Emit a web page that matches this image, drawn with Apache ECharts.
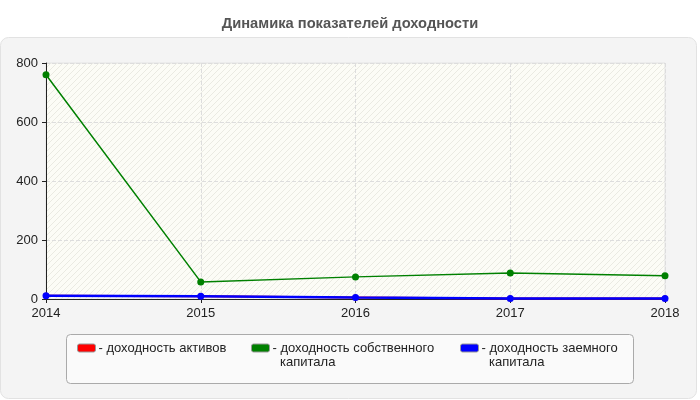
<!DOCTYPE html>
<html>
<head>
<meta charset="utf-8">
<script src="https://cdn.jsdelivr.net/npm/echarts@6/dist/echarts.min.js"></script>
<style>html,body{margin:0;padding:0;background:#fff}#c{width:700px;height:400px}</style>
</head>
<body>
<div id="c"></div>
<script>
var years = ['2014', '2015', '2016', '2017', '2018'];
var assetsReturn = [11, 9, 5, 2, 2];
var equityReturn = [760, 58, 75, 88, 79];
var debtReturn = [11, 9, 5, 2, 2];
var yTicks = [0, 200, 400, 600, 800];
var names = ['доходность активов', 'доходность собственного капитала', 'доходность заемного капитала'];
var legendLine1 = ['- доходность активов', '- доходность собственного', '- доходность заемного'];
var legendLine2 = ['', 'капитала', 'капитала'];
var colors = ['#ff0000', '#008000', '#0000ff'];

var FONT = 'Arial, "Liberation Sans", sans-serif';
var FS = 13;
var chart = echarts.init(document.getElementById('c'));

// subtle diagonal hatch for plot background
var pc = document.createElement('canvas');
pc.width = 6; pc.height = 6;
var pctx = pc.getContext('2d');
pctx.fillStyle = '#fcfcf6';
pctx.fillRect(0, 0, 6, 6);
pctx.strokeStyle = 'rgba(200,200,190,0.35)';
pctx.lineWidth = 1;
pctx.beginPath();
pctx.moveTo(0, 6); pctx.lineTo(6, 0);
pctx.moveTo(-1, 1); pctx.lineTo(1, -1);
pctx.moveTo(5, 7); pctx.lineTo(7, 5);
pctx.stroke();

var legendLefts = [77, 251, 460];

function legendFor(i) {
  return {
    data: [names[i]],
    left: legendLefts[i],
    top: 341,
    orient: 'horizontal',
    icon: 'roundRect',
    itemWidth: 18,
    itemHeight: 8,
    padding: 0,
    selectedMode: false,
    itemStyle: { borderColor: '#999', borderWidth: 1 },
    formatter: function () { return legendLine1[i]; },
    textStyle: { fontFamily: FONT, fontSize: FS, color: '#222', lineHeight: 14, padding: [0, 0, 0, -2] }
  };
}

var graphics = [
  { type: 'rect', z: -10, shape: { x: 0.5, y: 37.5, width: 696, height: 361, r: 8 }, style: { fill: '#f4f4f4', stroke: '#e2e2e2', lineWidth: 1 } },
  { type: 'rect', z: -10, shape: { x: 66.5, y: 334.5, width: 567, height: 49, r: 4 }, style: { fill: '#fafafa', stroke: '#aaaaaa', lineWidth: 1 } }
];
for (var k = 0; k < 3; k++) {
  if (legendLine2[k]) {
    graphics.push({ type: 'text', z: 10, left: legendLefts[k] + 29, top: 356,
      style: { text: legendLine2[k], font: FS + 'px ' + FONT, fill: '#222' } });
  }
}

chart.setOption({
  animation: false,
  title: {
    text: 'Динамика показателей доходности',
    left: 'center',
    top: 11,
    textStyle: { fontFamily: FONT, fontSize: 14.7, fontWeight: 'bold', color: '#555' }
  },
  graphic: graphics,
  legend: [legendFor(0), legendFor(1), legendFor(2)],
  grid: {
    left: 46, right: 35, top: 63, bottom: 101,
    show: true, backgroundColor: { image: pc, repeat: 'repeat' }, borderColor: '#e4e4e4', borderWidth: 1
  },
  xAxis: {
    type: 'category',
    data: years,
    boundaryGap: false,
    axisLine: { lineStyle: { color: '#222', width: 1 } },
    axisTick: { show: true, length: 4, lineStyle: { color: '#222' } },
    axisLabel: { fontFamily: FONT, fontSize: FS, color: '#222', margin: 8 },
    splitLine: { show: true, lineStyle: { type: 'dashed', color: '#dddddd' } }
  },
  yAxis: {
    type: 'value',
    min: 0, max: 800, interval: 200,
    axisLine: { show: true, lineStyle: { color: '#222', width: 1 } },
    axisTick: { show: true, length: 4, lineStyle: { color: '#222' } },
    axisLabel: { fontFamily: FONT, fontSize: FS, color: '#222', margin: 8,
      formatter: function (v) { return yTicks.indexOf(v) >= 0 ? String(v) : ''; } },
    splitLine: { show: true, lineStyle: { type: 'dashed', color: '#dddddd' } }
  },
  series: [
    { name: names[0], type: 'line', data: assetsReturn, symbol: 'circle', symbolSize: 6,
      itemStyle: { color: colors[0] }, lineStyle: { color: colors[0], width: 2 } },
    { name: names[1], type: 'line', data: equityReturn, symbol: 'circle', symbolSize: 7,
      itemStyle: { color: colors[1] }, lineStyle: { color: colors[1], width: 1.5 } },
    { name: names[2], type: 'line', data: debtReturn, symbol: 'circle', symbolSize: 7,
      itemStyle: { color: colors[2] }, lineStyle: { color: colors[2], width: 2.5 } }
  ]
});
</script>
</body>
</html>
